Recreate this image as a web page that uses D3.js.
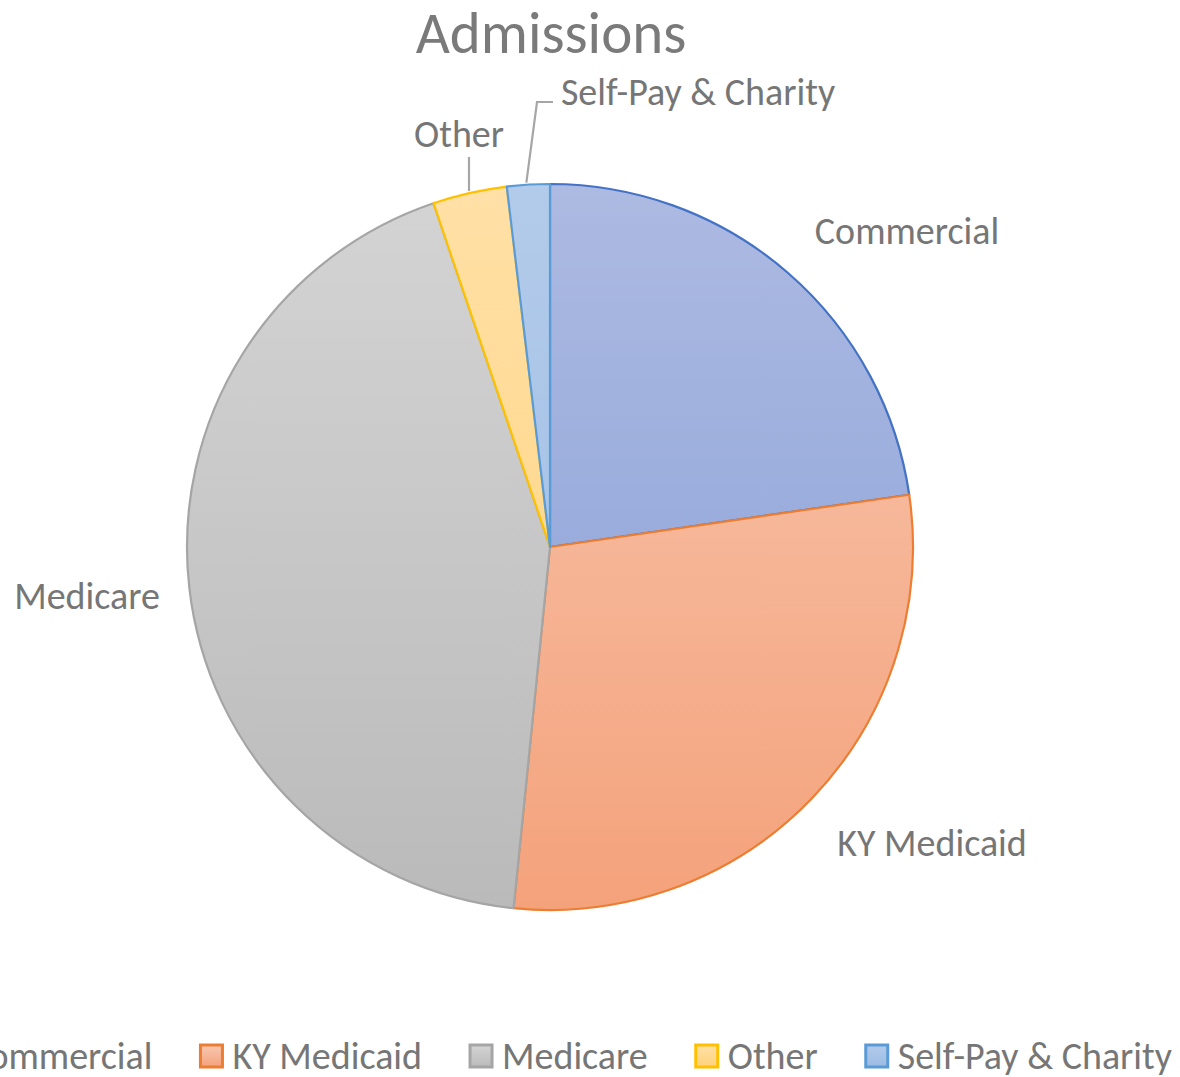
<!DOCTYPE html>
<html>
<head>
<meta charset="utf-8">
<script src="https://cdn.jsdelivr.net/npm/d3@7"></script>
<style>
  body { margin: 0; background: #fff; }
  svg { display: block; }
</style>
</head>
<body>
<svg id="chart" width="1180" height="1077"></svg>
<script>
// data (percent of admissions)
const categories = ["Commercial", "KY Medicaid", "Medicare", "Other", "Self-Pay & Charity"];
const shares = [22.7, 28.9, 43.2, 3.3, 1.9];

// colours: stroke, gradient top, gradient bottom
const strokeColors = ["#4472c4", "#ed7d31", "#a5a5a5", "#ffc000", "#5b9bd5"];
const topColors = ["#adbae2", "#f8c8b2", "#d4d4d4", "#ffe0a6", "#b3cbea"];
const bottomColors = ["#859ed6", "#f4a27b", "#bababa", "#ffd27a", "#9bbbe4"];

const svg = d3.select("#chart");
const cx = 550, cy = 547, radius = 363;
const font = "Calibri, Carlito, Lato, sans-serif";
const textColor = "#767676";

// gradients (group space, pie centred on 0,0)
const defs = svg.append("defs");
categories.forEach((c, i) => {
    const grad = defs.append("linearGradient")
        .attr("id", "grad" + i)
        .attr("gradientUnits", "userSpaceOnUse")
        .attr("x1", 0).attr("y1", -radius)
        .attr("x2", 0).attr("y2", radius);
    grad.append("stop").attr("offset", "0%").attr("stop-color", topColors[i]);
    grad.append("stop").attr("offset", "100%").attr("stop-color", bottomColors[i]);

    const lg = defs.append("linearGradient")
        .attr("id", "lg" + i)
        .attr("x1", 0).attr("y1", 0).attr("x2", 0).attr("y2", 1);
    lg.append("stop").attr("offset", "0%").attr("stop-color", topColors[i]);
    lg.append("stop").attr("offset", "100%").attr("stop-color", bottomColors[i]);
});

// title
svg.append("text")
    .attr("x", 551)
    .attr("y", 53)
    .attr("text-anchor", "middle")
    .style("font-family", font)
    .style("font-size", "59px")
    .style("fill", "#7a7a7a")
    .text("Admissions");

const pie = d3.pie().sort(null).value(d => d);
const arcs = pie(shares);
const arc = d3.arc().innerRadius(0).outerRadius(radius);

const g = svg.append("g").attr("transform", `translate(${cx},${cy})`);

g.selectAll("path.slice")
    .data(arcs)
    .enter().append("path")
    .attr("class", "slice")
    .attr("d", arc)
    .style("fill", (d, i) => `url(#grad${i})`)
    .style("stroke", (d, i) => strokeColors[i])
    .style("stroke-width", 2.2)
    .style("stroke-linejoin", "round");

// data labels (offsets from centre)
const labelPos = [
    { dx: 357, dy: -316 },   // Commercial
    { dx: 382, dy: 296 },    // KY Medicaid
    { dx: -463, dy: 49 },    // Medicare
    { dx: -91, dy: -413 },   // Other
    { dx: 148, dy: -455 }    // Self-Pay & Charity
];

g.selectAll("text.label")
    .data(arcs)
    .enter().append("text")
    .attr("class", "label")
    .attr("x", (d, i) => labelPos[i].dx)
    .attr("y", (d, i) => labelPos[i].dy)
    .attr("dy", "0.35em")
    .attr("text-anchor", "middle")
    .style("font-family", font)
    .style("font-size", "38px")
    .style("fill", textColor)
    .text((d, i) => categories[i]);

// leader lines for the two small slices
const leader = d3.line();
const outer = d3.arc().innerRadius(radius).outerRadius(radius);
const otherEdge = outer.centroid(arcs[3]);
g.append("path")
    .attr("d", leader([[-81, -390], [-81, otherEdge[1] - 2]]))
    .style("fill", "none")
    .style("stroke", "#a6a6a6")
    .style("stroke-width", 2.2);
const selfEdge = outer.centroid(arcs[4]);
g.append("path")
    .attr("d", leader([[3, -445], [-13, -445], [selfEdge[0] - 2, selfEdge[1] - 2]]))
    .style("fill", "none")
    .style("stroke", "#a6a6a6")
    .style("stroke-width", 2.2);

// legend
const legend = svg.append("g").attr("class", "legend");
const swatch = 22, gapAfterSwatch = 10, gapBetween = 48;
const items = legend.selectAll("g.item")
    .data(categories)
    .enter().append("g")
    .attr("class", "item");

items.append("rect")
    .attr("width", swatch)
    .attr("height", swatch)
    .attr("y", 1045)
    .style("fill", (d, i) => `url(#lg${i})`)
    .style("stroke", (d, i) => strokeColors[i])
    .style("stroke-width", 3);

items.append("text")
    .attr("y", 1056)
    .attr("dy", "0.35em")
    .style("font-family", font)
    .style("font-size", "38px")
    .style("fill", textColor)
    .text(d => d);

// lay out legend items right-aligned so the last one ends near x=1172
const widths = [];
items.select("text").each(function () { widths.push(this.getComputedTextLength()); });
const itemWidths = widths.map(w => swatch + gapAfterSwatch + w);
const total = d3.sum(itemWidths) + gapBetween * (categories.length - 1);
let xPos = 1172 - total;
items.each(function (d, i) {
    d3.select(this).select("rect").attr("x", xPos);
    d3.select(this).select("text").attr("x", xPos + swatch + gapAfterSwatch);
    xPos += itemWidths[i] + gapBetween;
});
</script>
</body>
</html>
